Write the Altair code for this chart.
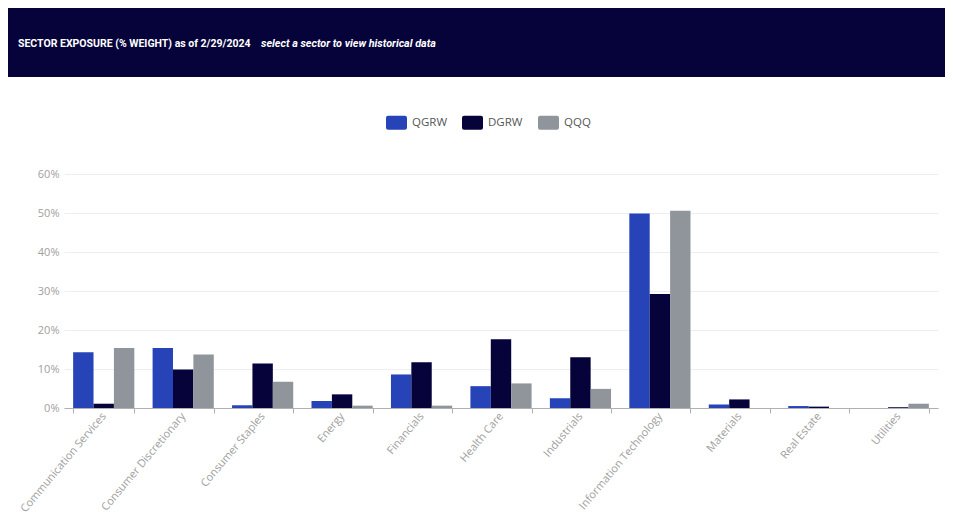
import altair as alt
import pandas as pd

sectors = ["Communication Services", "Consumer Discretionary", "Consumer Staples", "Energy",
           "Financials", "Health Care", "Industrials", "Information Technology",
           "Materials", "Real Estate", "Utilities"]
funds = ["QGRW", "DGRW", "QQQ"]
qgrw = [14.3, 15.4, 0.7, 1.8, 8.6, 5.6, 2.5, 49.9, 0.9, 0.5, 0.0]
dgrw = [1.1, 9.9, 11.4, 3.5, 11.7, 17.6, 13.0, 29.2, 2.2, 0.35, 0.2]
qqq = [15.4, 13.7, 6.7, 0.6, 0.6, 6.3, 4.9, 50.6, 0.0, 0.0, 1.1]
y_ticks = [0, 10, 20, 30, 40, 50, 60]
colors = ["#2644b8", "#05033a", "#8f959a"]
header_main = ["SECTOR EXPOSURE (% WEIGHT) as of 2/29/2024"]
header_sub = ["select a sector to view historical data"]

rows = []
for i, s in enumerate(sectors):
    for f, vals in zip(funds, [qgrw, dgrw, qqq]):
        rows.append({"sector": s, "fund": f, "value": vals[i]})
df = pd.DataFrame(rows)

W, H = 874, 234
FONT = "Open Sans"
HFONT = "Roboto"

rect_path = ("M-0.8,-0.667H0.8Q1,-0.667 1,-0.467V0.467Q1,0.667 0.8,0.667"
             "H-0.8Q-1,0.667 -1,0.467V-0.467Q-1,-0.667 -0.8,-0.667Z")

bars = alt.Chart(df).mark_bar().encode(
    x=alt.X("sector:N", sort=sectors,
            scale=alt.Scale(paddingInner=0.23, paddingOuter=0.115),
            axis=alt.Axis(title=None, labelAngle=-50, labelAlign="right", labelBaseline="middle",
                          labelColor="#a0a0a0", labelFont=FONT, labelFontSize=11,
                          labelPadding=1, tickBand="extent", ticks=True, tickSize=5,
                          tickColor="#b0b0b0", domainColor="#b0b0b0", labelOverlap=False,
                          labelLimit=200)),
    xOffset=alt.XOffset("fund:N", sort=funds, scale=alt.Scale(paddingInner=0, paddingOuter=0)),
    y=alt.Y("value:Q", scale=alt.Scale(domain=[0, 60]),
            axis=alt.Axis(title=None, values=y_ticks, labelExpr="datum.value + '%'",
                          labelColor="#a0a0a0", labelFont=FONT, labelFontSize=11,
                          labelPadding=5, ticks=False, domain=False,
                          gridColor="#eceef5", gridWidth=1)),
    color=alt.Color("fund:N", sort=funds, scale=alt.Scale(domain=funds, range=colors),
                    legend=alt.Legend(title=None, orient="none", direction="horizontal",
                                      legendX=322, legendY=-62, symbolType=rect_path,
                                      symbolSize=441, symbolStrokeWidth=0, symbolOpacity=1,
                                      labelFont=FONT, labelFontSize=11.5, labelColor="#555555",
                                      labelOffset=5, gridAlign="all", columnPadding=14)),
)

one = pd.DataFrame({"main": header_main, "sub": header_sub})

header = alt.Chart(one).mark_rect(color="#05033a").encode(
    x=alt.value(-56), x2=alt.value(W + 7), y=alt.value(-167), y2=alt.value(-97)
)
t1 = alt.Chart(one).mark_text(color="white", font=HFONT, fontWeight="bold", fontSize=10.5,
                              align="left", baseline="middle").encode(
    text="main:N", x=alt.value(-46), y=alt.value(-130))
t2 = alt.Chart(one).mark_text(color="white", font=HFONT, fontWeight="bold", fontStyle="italic",
                              fontSize=10.8, align="left", baseline="middle").encode(
    text="sub:N", x=alt.value(197), y=alt.value(-130))

chart = alt.layer(header, t1, t2, bars).properties(
    width=W, height=H,
    autosize=alt.AutoSizeParams(type="none"),
    padding={"left": 56, "top": 166, "right": 7, "bottom": 108},
    background="white",
).configure_view(stroke=None)

chart.save("out.html", embed_options={"renderer": "svg", "actions": False})
